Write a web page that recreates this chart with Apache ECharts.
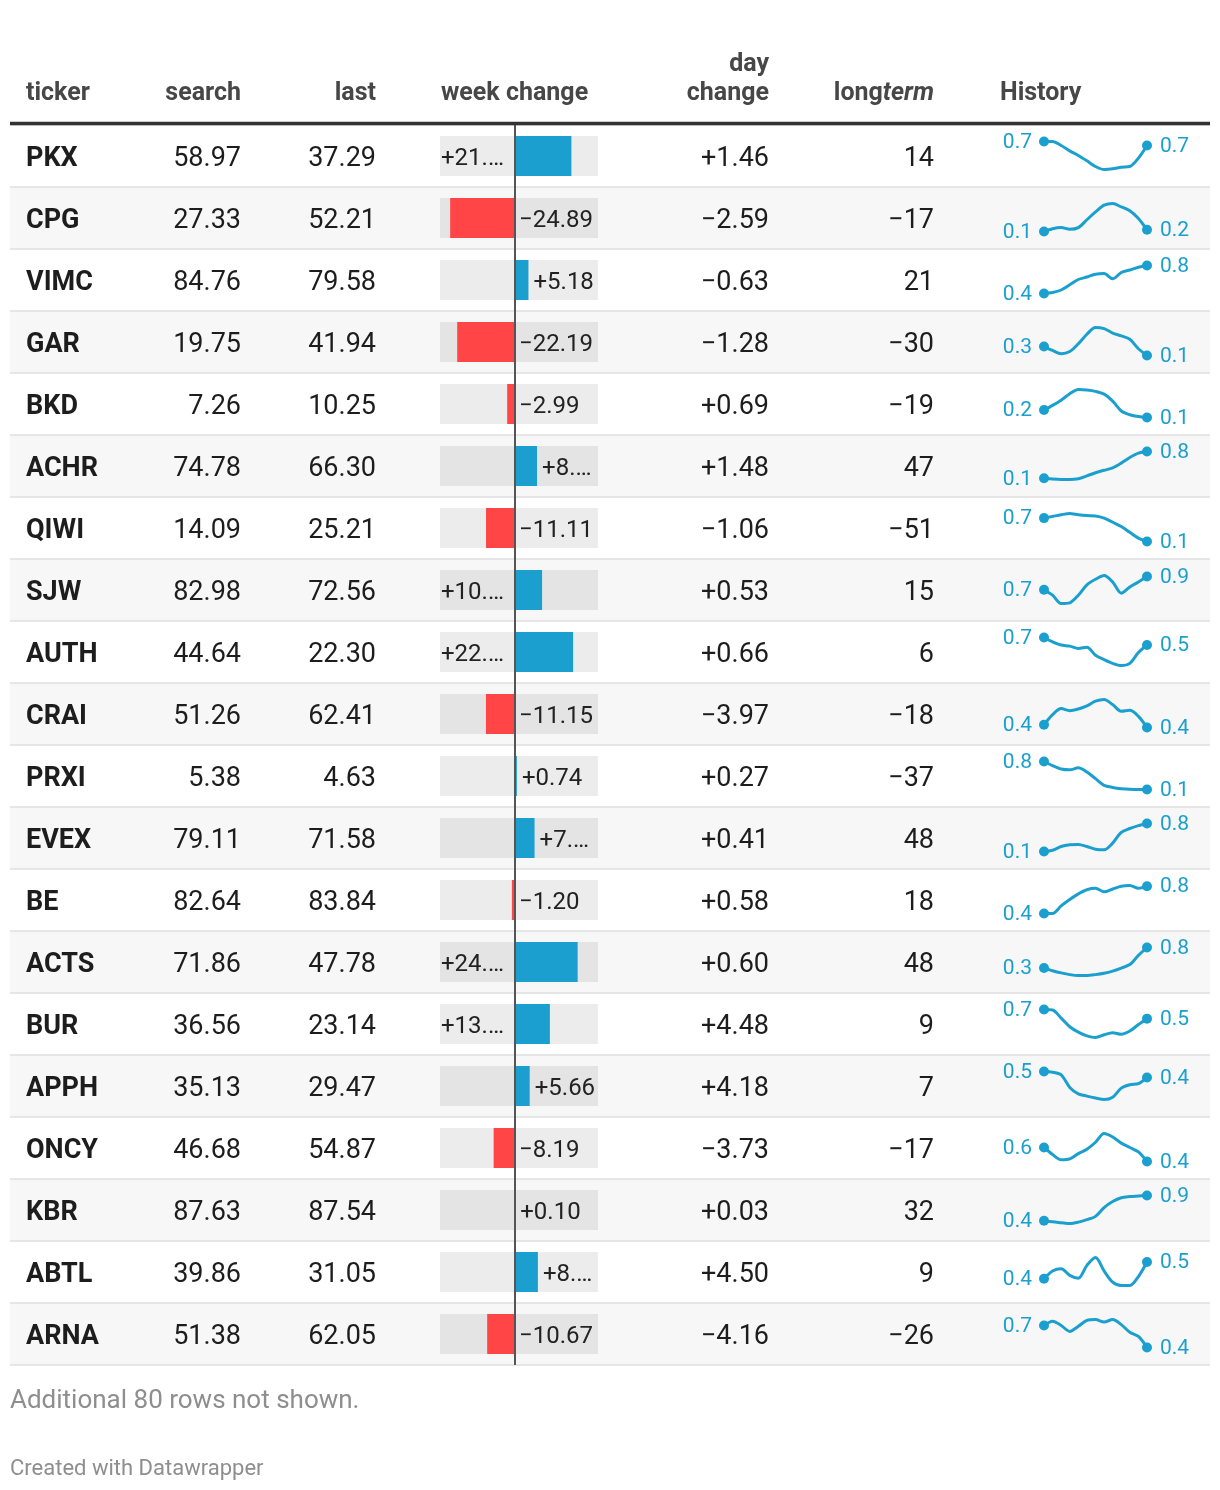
<!DOCTYPE html>
<html>
<head>
<meta charset="utf-8">
<script src="https://cdn.jsdelivr.net/npm/echarts@6/dist/echarts.min.js"></script>
<style>
html,body{margin:0;padding:0;background:#fff;}
#chart{width:1220px;height:1490px;}
</style>
</head>
<body>
<div id="chart"></div>
<script>
// ---------- data ----------
const tickers = ['PKX','CPG','VIMC','GAR','BKD','ACHR','QIWI','SJW','AUTH','CRAI','PRXI','EVEX','BE','ACTS','BUR','APPH','ONCY','KBR','ABTL','ARNA'];
const search = [58.97,27.33,84.76,19.75,7.26,74.78,14.09,82.98,44.64,51.26,5.38,79.11,82.64,71.86,36.56,35.13,46.68,87.63,39.86,51.38];
const last = [37.29,52.21,79.58,41.94,10.25,66.30,25.21,72.56,22.30,62.41,4.63,71.58,83.84,47.78,23.14,29.47,54.87,87.54,31.05,62.05];
const weekChange = [21.68,-24.89,5.18,-22.19,-2.99,8.48,-11.11,10.42,22.34,-11.15,0.74,7.53,-1.20,24.08,13.42,5.66,-8.19,0.10,8.81,-10.67];
const dayChange = [1.46,-2.59,-0.63,-1.28,0.69,1.48,-1.06,0.53,0.66,-3.97,0.27,0.41,0.58,0.60,4.48,4.18,-3.73,0.03,4.50,-4.16];
const longterm = [14,-17,21,-30,-19,47,-51,15,6,-18,-37,48,18,48,9,7,-17,32,9,-26];
const history = [
  [0.72,0.72,0.66,0.58,0.51,0.43,0.345,0.30,0.31,0.335,0.345,0.47,0.66],
  [0.13,0.18,0.20,0.17,0.20,0.34,0.48,0.60,0.63,0.57,0.50,0.36,0.16],
  [0.41,0.425,0.46,0.535,0.61,0.645,0.685,0.695,0.62,0.71,0.745,0.785,0.81],
  [0.28,0.21,0.15,0.19,0.33,0.50,0.62,0.60,0.52,0.47,0.41,0.24,0.12],
  [0.19,0.24,0.295,0.365,0.41,0.405,0.39,0.36,0.285,0.18,0.14,0.12,0.11],
  [0.12,0.10,0.09,0.09,0.11,0.18,0.26,0.32,0.38,0.50,0.64,0.75,0.79],
  [0.68,0.72,0.76,0.79,0.76,0.74,0.73,0.68,0.58,0.48,0.34,0.20,0.12],
  [0.71,0.63,0.51,0.52,0.63,0.78,0.86,0.915,0.82,0.66,0.75,0.82,0.90],
  [0.68,0.60,0.54,0.52,0.475,0.50,0.35,0.27,0.20,0.16,0.20,0.40,0.54],
  [0.42,0.57,0.66,0.63,0.655,0.70,0.77,0.795,0.72,0.62,0.635,0.545,0.38],
  [0.78,0.68,0.60,0.58,0.63,0.53,0.37,0.21,0.16,0.13,0.115,0.11,0.11],
  [0.12,0.15,0.24,0.28,0.29,0.24,0.175,0.16,0.32,0.58,0.67,0.74,0.79],
  [0.41,0.41,0.52,0.61,0.69,0.75,0.77,0.72,0.76,0.80,0.81,0.77,0.80],
  [0.32,0.26,0.21,0.17,0.15,0.15,0.17,0.20,0.25,0.32,0.40,0.61,0.79],
  [0.69,0.68,0.53,0.37,0.27,0.20,0.17,0.22,0.26,0.23,0.29,0.41,0.52],
  [0.52,0.51,0.476,0.31,0.225,0.195,0.17,0.15,0.18,0.30,0.345,0.36,0.44],
  [0.58,0.50,0.44,0.45,0.51,0.56,0.64,0.74,0.70,0.63,0.58,0.53,0.42],
  [0.42,0.40,0.385,0.37,0.395,0.44,0.50,0.66,0.77,0.84,0.86,0.87,0.88],
  [0.38,0.45,0.47,0.41,0.385,0.50,0.57,0.45,0.35,0.32,0.32,0.40,0.53],
  [0.68,0.73,0.68,0.61,0.67,0.74,0.75,0.72,0.75,0.69,0.60,0.55,0.42]
];
const headers = ['ticker','search','last','week change','day\nchange','longterm','History'];
const footnote = 'Additional 80 rows not shown.';
const credit = 'Created with Datawrapper';

// ---------- layout / style ----------
const FONT = 'Roboto';
const BLUE = '#1b9fcf';
const RED = '#ff4545';
const TEXT = '#1d1d1d';
const HEAD = '#474747';
const TABLE_LEFT = 10, TABLE_W = 1200, TABLE_TOP = 125, ROW_H = 62;
const N = tickers.length;
const WEEK_MIN = -28.8, WEEK_MAX = 31.9;
const TXT_DY = 3;

const MINUS = '\u2212';
const fmt2 = v => v.toFixed(2);
const fmtSigned = v => (v >= 0 ? '+' : MINUS) + Math.abs(v).toFixed(2);
const fmtInt = v => (v < 0 ? MINUS + Math.abs(v) : String(v));

const chart = echarts.init(document.getElementById('chart'), null, {renderer: 'canvas'});

const grids = [], xAxes = [], yAxes = [], series = [];

// grid 0: table background + text columns
grids.push({left: TABLE_LEFT, top: TABLE_TOP, width: TABLE_W, height: ROW_H * N});
xAxes.push({gridIndex: 0, type: 'value', min: 0, max: TABLE_W, show: false});
yAxes.push({
  gridIndex: 0, type: 'category', data: tickers, inverse: true,
  axisLine: {show: false}, axisTick: {show: false}, axisLabel: {show: false},
  splitLine: {show: true, interval: 0, lineStyle: {color: '#e6e6e6', width: 2}},
  splitArea: {show: true, interval: 0, areaStyle: {color: ['#ffffff', '#f7f7f7']}}
});

function textColumn(values, anchorX, formatter, position, bold) {
  series.push({
    type: 'scatter', xAxisIndex: 0, yAxisIndex: 0, symbolSize: 0, silent: true, z: 5,
    itemStyle: {opacity: 1},
    data: values.map((v, i) => [anchorX - TABLE_LEFT, i, v]),
    encode: {x: 0, y: 1},
    label: {show: true, position: position, distance: 0, offset: [0, TXT_DY], fontFamily: FONT, fontSize: 27,
      fontWeight: bold ? 'bold' : 'normal', color: TEXT, opacity: 1, textBorderWidth: 0,
      formatter: p => formatter(p.value[2])}
  });
}
textColumn(tickers, 26, v => v, 'right', true);
textColumn(search, 241, fmt2, 'left', false);
textColumn(last, 376, fmt2, 'left', false);
textColumn(dayChange, 769, fmtSigned, 'left', false);
textColumn(longterm, 934, fmtInt, 'left', false);

// grid 1: week change bars
grids.push({left: 440, top: TABLE_TOP, width: 158, height: ROW_H * N});
xAxes.push({gridIndex: 1, type: 'value', min: WEEK_MIN, max: WEEK_MAX, show: false});
yAxes.push({gridIndex: 1, type: 'category', data: tickers, inverse: true, show: false});
series.push({
  type: 'bar', xAxisIndex: 1, yAxisIndex: 1, barWidth: 40, silent: true, z: 3,
  showBackground: true, backgroundStyle: {color: 'rgba(0,0,0,0.075)'},
  data: weekChange.map(v => ({value: v, itemStyle: {color: v < 0 ? RED : BLUE}})),
  markLine: {silent: true, symbol: 'none', label: {show: false}, animation: false,
    lineStyle: {color: '#555', width: 2, type: 'solid'}, data: [{xAxis: 0}]}
});
series.push({
  type: 'scatter', xAxisIndex: 1, yAxisIndex: 1, symbolSize: 0, silent: true, z: 6,
  itemStyle: {opacity: 1},
  data: weekChange.map((v, i) => {
    let anchor, text, dist;
    if (v < 0) { anchor = 0; text = MINUS + Math.abs(v).toFixed(2); dist = 4; }
    else if (v > 9) { anchor = WEEK_MIN; text = '+' + Math.floor(v) + '.\u2026'; dist = 1; }
    else if (v > 6) { anchor = v; text = '+' + Math.floor(v) + '.\u2026'; dist = 5; }
    else { anchor = v; text = '+' + v.toFixed(2); dist = 5; }
    return {value: [anchor, i], label: {formatter: text, distance: dist}};
  }),
  label: {show: true, position: 'right', offset: [0, TXT_DY], fontFamily: FONT, fontSize: 24, color: '#222', opacity: 1, textBorderWidth: 0}
});

// sparklines
history.forEach((h, i) => {
  const gi = grids.length;
  grids.push({left: 1044, width: 103, top: TABLE_TOP + ROW_H * i + 16.5, height: 28});
  xAxes.push({gridIndex: gi, type: 'category', boundaryGap: false, show: false, data: h.map((_, k) => k)});
  yAxes.push({gridIndex: gi, type: 'value', show: false, scale: true, min: 'dataMin', max: 'dataMax'});
  const n = h.length;
  series.push({
    type: 'line', xAxisIndex: gi, yAxisIndex: gi, smooth: 0.3, silent: true, z: 4,
    symbol: 'circle', showSymbol: true, showAllSymbol: true,
    symbolSize: (val, p) => (p.dataIndex === 0 || p.dataIndex === n - 1) ? 10 : 0,
    lineStyle: {color: BLUE, width: 3}, itemStyle: {color: BLUE, opacity: 1},
    label: {show: false, offset: [0, 1], fontFamily: FONT, fontSize: 21, color: BLUE, formatter: p => Number(p.value).toFixed(1)},
    data: h.map((v, k) => k === 0 ? {value: v, label: {show: true, position: 'left', distance: 7}}
                        : k === n - 1 ? {value: v, label: {show: true, position: 'right', distance: 8}} : v)
  });
});

// header & footer text
const hStyle = (text, x, y, align) => ({type: 'text', silent: true, z: 10,
  style: {text, x, y, textAlign: align, textVerticalAlign: 'middle', fontFamily: FONT, fontSize: 25, fontWeight: 'bold', fill: HEAD}});
const graphic = [
  hStyle(headers[0], 26, 94, 'left'),
  hStyle(headers[1], 241, 94, 'right'),
  hStyle(headers[2], 376, 94, 'right'),
  hStyle(headers[3], 441, 94, 'left'),
  hStyle(headers[4].split('\n')[0], 769, 65, 'right'),
  hStyle(headers[4].split('\n')[1], 769, 94, 'right'),
  {type: 'text', silent: true, z: 10, style: {text: '{a|long}{b|term}', x: 934, y: 94, textAlign: 'right', textVerticalAlign: 'middle',
    rich: {a: {fontFamily: FONT, fontSize: 25, fontWeight: 'bold', fill: HEAD, color: HEAD},
           b: {fontFamily: FONT, fontSize: 25, fontWeight: 'bold', fontStyle: 'italic', fill: HEAD, color: HEAD}}}},
  hStyle(headers[6], 1000, 94, 'left'),
  {type: 'line', silent: true, z: 10, shape: {x1: 10, y1: 123.5, x2: 1210, y2: 123.5}, style: {stroke: '#333', lineWidth: 3.5}},
  {type: 'text', silent: true, z: 10, style: {text: footnote, x: 10, y: 1401, textVerticalAlign: 'middle', fontFamily: FONT, fontSize: 26, fill: '#8e8e8e'}},
  {type: 'text', silent: true, z: 10, style: {text: credit, x: 10, y: 1469, textVerticalAlign: 'middle', fontFamily: FONT, fontSize: 22, fill: '#8e8e8e'}}
];

chart.setOption({
  backgroundColor: '#ffffff',
  animation: false,
  grid: grids, xAxis: xAxes, yAxis: yAxes, series, graphic
});
</script>
</body>
</html>
